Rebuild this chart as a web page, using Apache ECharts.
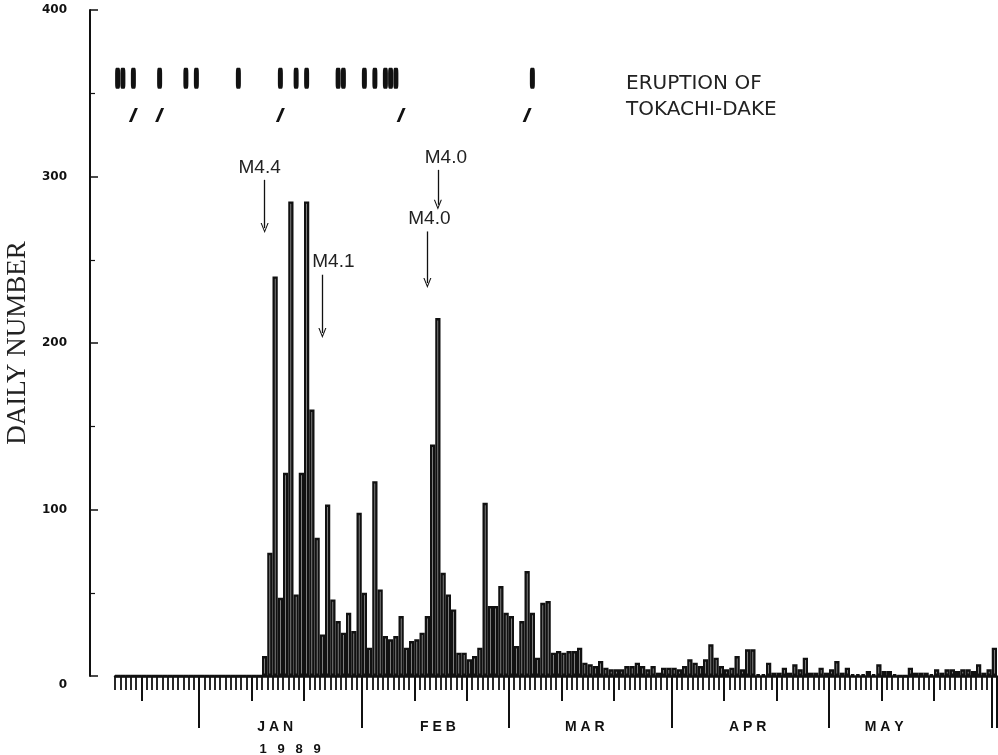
<!DOCTYPE html>
<html>
<head>
<meta charset="utf-8">
<script src="https://cdn.jsdelivr.net/npm/echarts@6.0.0/dist/echarts.min.js"></script>
<style>
  html, body { margin: 0; padding: 0; background: #fff; }
  #chart { width: 998px; height: 755px; }
</style>
</head>
<body>
<div id="chart"></div>
<script>
// daily counts, 16 Dec 1988 .. 1 Jun 1989
var startDay = '1988-12-16';
var dec88 = [0,0,0,0,0,0,0,0,0,0,0,0,0,0,0,0];
var jan89 = [0,0,0,0,0,0,0,0,0,0,0,0,12,74,240,47,122,285,49,122,285,160,83,25,103,46,33,26,38,27,98];
var feb89 = [50,17,117,52,24,22,24,36,17,21,22,26,36,139,215,62,49,40,14,14,10,12,17,104,42,42,54,38];
var mar89 = [36,18,33,63,38,11,44,45,14,15,14,15,15,17,8,7,6,9,5,4,4,4,6,6,8,6,4,6,2,5,5];
var apr89 = [5,4,6,10,8,6,10,19,11,6,4,5,12,4,16,16,1,1,8,2,2,5,2,7,4,11,2,2,5,2];
var may89 = [4,9,2,5,1,1,1,3,1,7,3,3,1,0,0,5,2,2,2,1,4,2,4,4,3,4,4,3,7,2,4];
var jun89 = [17];

// eruptions of Tokachi-dake (two rows of marks at the top)
var eruptionDays = ['1988-12-16','1988-12-17','1988-12-19','1988-12-24','1988-12-29','1988-12-31',
  '1989-01-08','1989-01-16','1989-01-19','1989-01-21','1989-01-27','1989-01-28',
  '1989-02-01','1989-02-03','1989-02-05','1989-02-06','1989-02-07','1989-03-05'];
var slashDays = ['1988-12-19','1988-12-24','1989-01-16','1989-02-08','1989-03-04'];

// larger earthquakes
var quakeMags = ['M4.4', 'M4.1', 'M4.0', 'M4.0'];
var quakeDays = ['1989-01-13', '1989-01-24', '1989-02-15', '1989-02-13'];

// axis text
var yTicks = [0, 100, 200, 300, 400];
var monthNames = ['J A N', 'F E B', 'M A R', 'A P R', 'M A Y'];
var monthLabelDays = ['1989-01-15', '1989-02-15', '1989-03-15', '1989-04-15', '1989-05-11'];
var yearText = '1   9   8   9';

var counts = [].concat(dec88, jan89, feb89, mar89, apr89, may89, jun89);
var days = [];
var d0 = new Date(startDay + 'T00:00:00Z');
for (var i = 0; i < counts.length; i++) {
    var d = new Date(d0.getTime() + i * 86400000);
    days.push(d.toISOString().slice(0, 10));
}
function dom(v) { return (typeof v === 'string') ? parseInt(v.slice(8, 10), 10) : -1; }

var ink = '#111';
var slashMark = 'path://M6,0 L9,0 L3,14 L0,14 Z';
var chevron = 'path://M5,0 L10,11 L8.6,11 L5,3 L1.4,11 L0,11 Z';

// arrow spans (top, bottom) and label shift in px, same order as quakeMags
var arrowSpans = [[298, 269], [241, 206], [304, 283], [267, 236]];
var labelShift = [-5, 11, 8, 2];

var chart = echarts.init(document.getElementById('chart'));

var option = {
    animation: false,
    backgroundColor: '#fff',
    title: {
        text: 'ERUPTION OF\nTOKACHI-DAKE',
        left: 621,
        top: 66,
        textStyle: { fontFamily: 'DejaVu Sans', fontSize: 20, fontWeight: 'normal', color: '#222', lineHeight: 26 }
    },
    grid: { left: 115, right: 1, top: 10, bottom: 79, outerBoundsMode: 'none' },
    xAxis: [{
        type: 'category',
        data: days,
        position: 'bottom',
        boundaryGap: true,
        axisLine: { show: true, lineStyle: { color: ink, width: 2.5 } },
        axisTick: { show: true, interval: 0, length: 14, lineStyle: { color: ink, width: 1.8 } },
        axisLabel: { show: false },
        splitLine: { show: false }
    }, {
        // 1st / 11th / 21st ticks
        type: 'category',
        data: days,
        position: 'bottom',
        axisLine: { show: false },
        axisTick: {
            show: true, length: 25,
            interval: function (idx, v) { var n = dom(v); return n === 11 || n === 21; },
            lineStyle: { color: ink, width: 2 }
        },
        axisLabel: { show: false },
        splitLine: { show: false }
    }, {
        // month ticks and names
        type: 'category',
        data: days,
        position: 'bottom',
        axisLine: { show: false },
        axisTick: {
            show: true, length: 52,
            interval: function (idx, v) { return dom(v) === 1; },
            lineStyle: { color: ink, width: 2 }
        },
        axisLabel: {
            show: true,
            margin: 40,
            interval: function (idx, v) { return monthLabelDays.indexOf(v) >= 0; },
            formatter: function (v) {
                var k = monthLabelDays.indexOf(v);
                if (k === 0) return '{m|' + monthNames[k] + '}\n{y|' + yearText + '}';
                return '{m|' + monthNames[k] + '}';
            },
            rich: {
                m: { fontFamily: 'Liberation Sans', fontWeight: 'bold', fontSize: 14, color: ink, lineHeight: 22 },
                y: { fontFamily: 'Liberation Sans', fontWeight: 'bold', fontSize: 13, color: ink, lineHeight: 22, padding: [0, 0, 0, 30] }
            }
        },
        splitLine: { show: false }
    }],
    yAxis: {
        type: 'value',
        min: 0,
        max: 400,
        interval: 100,
        offset: 25,
        name: 'DAILY NUMBER',
        nameLocation: 'middle',
        nameGap: 48,
        nameTextStyle: { fontFamily: 'Liberation Serif', fontSize: 27, color: '#222' },
        axisLine: { show: true, lineStyle: { color: ink, width: 2 } },
        axisTick: { show: true, inside: true, length: 8, lineStyle: { color: ink, width: 1.5 } },
        minorTick: { show: true, splitNumber: 2, length: 5, lineStyle: { color: ink, width: 1.2 } },
        axisLabel: {
            margin: 23,
            fontFamily: 'DejaVu Sans', fontWeight: 'bold', fontSize: 12, color: ink,
            formatter: function (v) {
                if (v === 0) return '{z|0}';
                return yTicks.indexOf(v) >= 0 ? String(v) : '';
            },
            rich: {
                z: { fontFamily: 'DejaVu Sans', fontWeight: 'bold', fontSize: 12, color: ink, padding: [18, 0, 0, 0] }
            }
        },
        splitLine: { show: false }
    },
    series: [{
        name: 'daily',
        type: 'bar',
        data: counts,
        barCategoryGap: '0%',
        itemStyle: { color: '#fff', borderColor: ink, borderWidth: 2.4 },
        markLine: {
            silent: true,
            symbol: ['none', chevron],
            symbolSize: [8, 10],
            lineStyle: { color: ink, width: 1.3, type: 'solid' },
            label: {
                show: true, position: 'start', distance: 3,
                formatter: '{b}',
                fontFamily: 'Liberation Sans', fontSize: 19, color: '#222'
            },
            data: quakeDays.map(function (d, k) {
                var s = labelShift[k];
                return [{
                    name: quakeMags[k],
                    coord: [d, arrowSpans[k][0]],
                    label: { padding: s >= 0 ? [0, 0, 0, 2 * s] : [0, -2 * s, 0, 0] }
                }, {
                    coord: [d, arrowSpans[k][1]]
                }];
            })
        }
    }, {
        name: 'eruption',
        type: 'scatter',
        data: eruptionDays.map(function (d) { return [d, 359]; }),
        symbol: 'roundRect',
        symbolSize: [5, 21],
        itemStyle: { color: ink, opacity: 1 }
    }, {
        name: 'eruption2',
        type: 'scatter',
        data: slashDays.map(function (d) { return [d, 337]; }),
        symbol: slashMark,
        symbolSize: [9, 14],
        itemStyle: { color: ink, opacity: 1 }
    }]
};

chart.setOption(option);
</script>
</body>
</html>
